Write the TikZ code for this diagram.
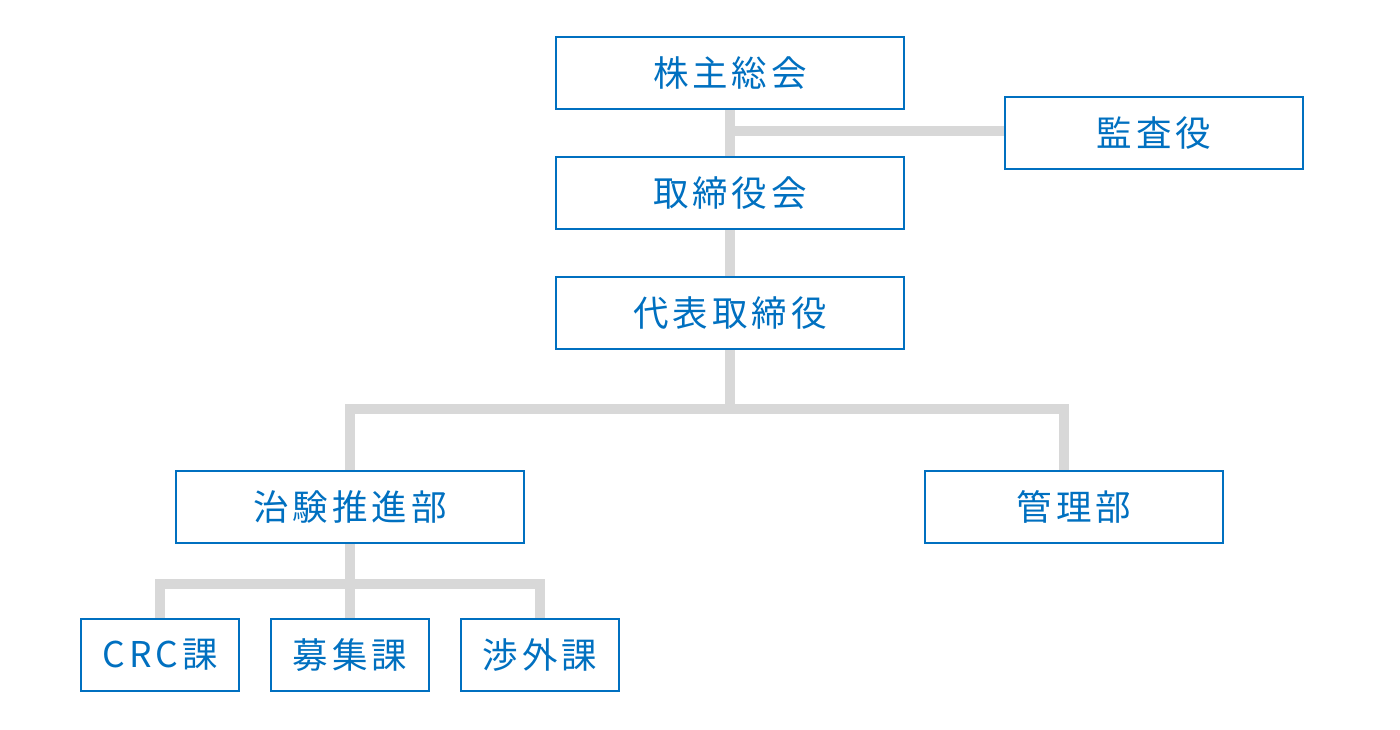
\documentclass[tikz,border=0pt]{standalone}
\usepackage{fontspec}
\setmainfont{Noto Sans CJK JP}[LetterSpace=11]
\usepackage{tikz}
\usetikzlibrary{positioning,calc}
\usepackage{xcolor}
\definecolor{cBlue}{RGB}{0,112,192}
\definecolor{cLine}{RGB}{216,216,216}
\tikzset{
  basebox/.style={rectangle,draw=cBlue,line width=2pt,fill=white,
                  text=cBlue,align=center,minimum height=72pt,
                  font=\fontsize{35.5}{40}\selectfont,inner sep=0pt},
  widebox/.style={basebox,minimum width=348pt},
  midbox/.style={basebox,minimum width=298pt},
  smallbox/.style={basebox,minimum width=158pt},
  conn/.style={draw=cLine,line width=10pt}
}
\begin{document}
\begin{tikzpicture}[x=1pt,y=-1pt]
  \useasboundingbox (0,0) rectangle (1400,730);
  \coordinate (auditw) at (1005,131);
  \coordinate (split) at (730,409);
  \coordinate (subsplit) at (350,584);

  % top of the chart
  \node[widebox] (meeting) at (730,73) {株主総会};
  \node[midbox] (audit) at (1154,133) {監査役};
  \node[widebox] (board) at (730,193) {取締役会};
  \node[widebox] (ceo) at (730,313) {代表取締役};
  % departments
  \node[widebox] (trial) at (350,507) {治験推進部};
  \node[midbox] (admin) at (1074,507) {管理部};
  % sections
  \node[smallbox] (crc) at (160,655) {CRC課};
  \node[smallbox] (recruit) at (350,655) {募集課};
  \node[smallbox] (relation) at (540,655) {渉外課};

  \draw[conn] (meeting.south) -- (board.north);
  \draw[conn] (audit.west |- auditw) -- (auditw -| meeting.south);
  \draw[conn] (board.south) -- (ceo.north);
  \draw[conn] (ceo.south) -- (split);
  \draw[conn] (trial.north) |- (split) -| ([xshift=-10pt]admin.north);
  \draw[conn] (trial.south) -- (recruit.north);
  \draw[conn] (crc.north) |- (subsplit) -| (relation.north);

  % boxes again on top of the lines
  \node[widebox] at (meeting) {株主総会};
  \node[midbox] at (audit) {監査役};
  \node[widebox] at (board) {取締役会};
  \node[widebox] at (ceo) {代表取締役};
  \node[widebox] at (trial) {治験推進部};
  \node[midbox] at (admin) {管理部};
  \node[smallbox] at (crc) {CRC課};
  \node[smallbox] at (recruit) {募集課};
  \node[smallbox] at (relation) {渉外課};
\end{tikzpicture}
\end{document}
